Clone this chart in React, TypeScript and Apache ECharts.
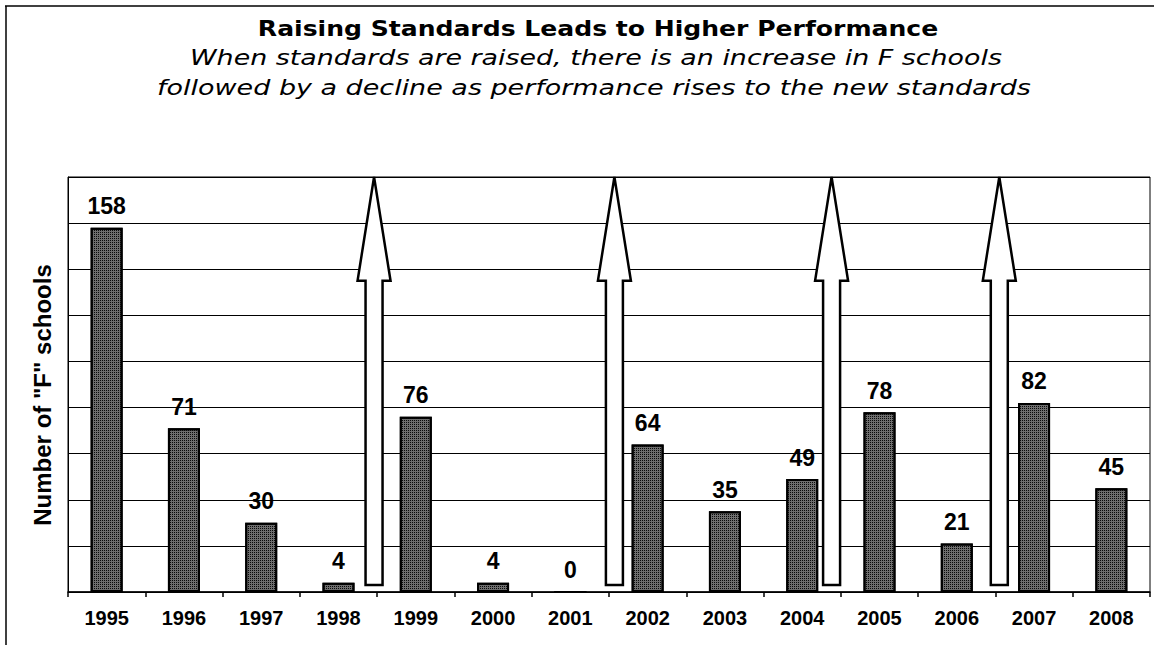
import React, { useEffect, useRef } from "react";
import * as echarts from "echarts";

const years = ["1995", "1996", "1997", "1998", "1999", "2000", "2001", "2002", "2003", "2004", "2005", "2006", "2007", "2008"];
const fSchools = [158, 71, 30, 4, 76, 4, 0, 64, 35, 49, 78, 21, 82, 45];

// standard-raising arrows: category index they follow + fractional offset (in bands)
const arrowAfterIndex = [3, 6, 9, 11];
const arrowOffset = [0.46, 0.57, 0.38, 0.55];

const titleText = "Raising Standards Leads to Higher Performance";
const subtitleLines = [
  "When standards are raised, there is an increase in F schools",
  "followed by a decline as performance rises to the new standards",
];
const yAxisName = 'Number of "F" schools';

export default function App() {
  const ref = useRef<HTMLDivElement>(null);
  useEffect(() => {
    document.body.style.margin = "0";
    const chart = echarts.init(ref.current!, null, { renderer: "svg" });
    const arrowData = arrowAfterIndex.map((c, i) => [c, arrowOffset[i]]);
    chart.setOption({
      animation: false,
      backgroundColor: "#fff",
      graphic: [
        { type: "line", shape: { x1: 5, y1: 6, x2: 1154, y2: 6 }, style: { stroke: "#000", lineWidth: 1.5 } },
        { type: "line", shape: { x1: 6, y1: 6, x2: 6, y2: 645 }, style: { stroke: "#000", lineWidth: 1.5 } },
        {
          type: "text", x: 598, y: 29, scaleX: 1.14,
          style: { text: titleText, font: "bold 22px 'DejaVu Sans'", fill: "#000", textAlign: "center", textVerticalAlign: "middle" },
        },
        {
          type: "text", x: 596, y: 58, scaleX: 1.28,
          style: { text: subtitleLines[0], font: "italic 21px 'DejaVu Sans'", fill: "#000", textAlign: "center", textVerticalAlign: "middle" },
        },
        {
          type: "text", x: 594, y: 88, scaleX: 1.285,
          style: { text: subtitleLines[1], font: "italic 21px 'DejaVu Sans'", fill: "#000", textAlign: "center", textVerticalAlign: "middle" },
        },
        {
          type: "text", x: 42, y: 395, rotation: Math.PI / 2,
          style: { text: yAxisName, font: "bold 24px 'Liberation Sans'", fill: "#000", textAlign: "center", textVerticalAlign: "middle" },
        },
      ],
      grid: { left: 68, right: 4, top: 177, bottom: 53, show: true, borderColor: "#000", borderWidth: 1, backgroundColor: "transparent" },
      xAxis: {
        type: "category",
        data: years,
        boundaryGap: true,
        axisLine: { show: true, lineStyle: { color: "#000", width: 1.5 } },
        axisTick: { show: true, length: 5, lineStyle: { color: "#000", width: 1.5 } },
        axisLabel: { color: "#000", fontFamily: "Liberation Sans", fontWeight: "bold", fontSize: 20, margin: 16 },
      },
      yAxis: {
        type: "value",
        min: 0,
        max: 180,
        interval: 20,
        axisLine: { show: true, lineStyle: { color: "#000", width: 1 } },
        axisTick: { show: false },
        axisLabel: { show: false },
        splitLine: { show: true, lineStyle: { color: "#000", width: 1 } },
      },
      series: [
        {
          type: "bar",
          data: fSchools,
          barWidth: 32,
          itemStyle: {
            color: "#6e6e6e",
            borderColor: "#000",
            borderWidth: 2,
            decal: { symbol: "rect", symbolSize: 1, color: "#0a0a0a", dashArrayX: [1, 1], dashArrayY: [1, 1], rotation: 0 },
          },
          label: {
            show: true,
            position: "top",
            distance: 10,
            color: "#000",
            fontFamily: "Liberation Sans",
            fontWeight: "bold",
            fontSize: 23,
          },
          z: 2,
        },
        {
          type: "custom",
          data: arrowData,
          encode: { x: 0, y: 1 },
          z: 3,
          renderItem: (params: any, api: any) => {
            const idx = api.value(0);
            const off = api.value(1);
            const bw = api.size([1, 0])[0];
            const top = api.coord([idx, 180]);
            const head = api.coord([idx, 135]);
            const bot = api.coord([idx, 3]);
            const x = top[0] + off * bw;
            const hw = 16.5;
            const sw = 8.5;
            return {
              type: "polygon",
              shape: {
                points: [
                  [x, top[1]],
                  [x + hw, head[1]],
                  [x + sw, head[1]],
                  [x + sw, bot[1]],
                  [x - sw, bot[1]],
                  [x - sw, head[1]],
                  [x - hw, head[1]],
                ],
              },
              style: { fill: "#fff", stroke: "#000", lineWidth: 2.5, lineJoin: "miter" },
            };
          },
        },
      ],
    });
    return () => chart.dispose();
  }, []);
  return <div ref={ref} style={{ width: 1154, height: 645 }} />;
}
